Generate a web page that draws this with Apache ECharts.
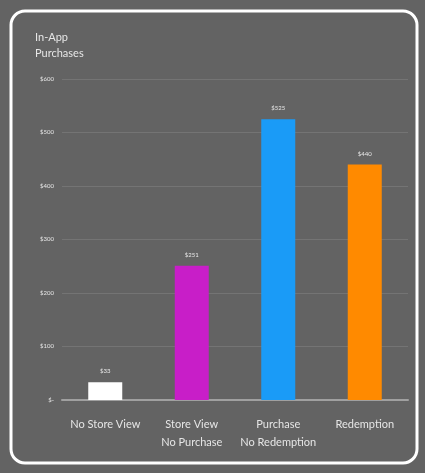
<!DOCTYPE html>
<html>
<head>
<meta charset="utf-8">
<script src="https://cdn.jsdelivr.net/npm/echarts@6/dist/echarts.min.js"></script>
<style>
html,body{margin:0;padding:0;background:#636363;}
#c{width:425px;height:473px;}
</style>
</head>
<body>
<div id="c"></div>
<script>
const categories = ['No Store View', 'Store View\nNo Purchase', 'Purchase\nNo Redemption', 'Redemption'];
const values = [33, 251, 525, 440];
const valueLabels = ['$33', '$251', '$525', '$440'];
const barColors = ['#ffffff', '#c81ec8', '#1a9bf7', '#ff8a00'];
const yTicks = [0, 100, 200, 300, 400, 500, 600];

const chart = echarts.init(document.getElementById('c'));
chart.setOption({
  backgroundColor: '#636363',
  animation: false,
  title: {
    text: 'In-App\nPurchases',
    left: 30, top: 24,
    textStyle: { color: '#e6e6e6', fontSize: 11, fontWeight: 'normal', fontFamily: 'Lato', lineHeight: 16 }
  },
  graphic: [{
    type: 'rect',
    shape: { x: 11, y: 11, width: 406, height: 452, r: 14 },
    style: { fill: 'none', stroke: '#ffffff', lineWidth: 3 },
    silent: true
  }],
  grid: { left: 62, right: 17, top: 79, bottom: 73 },
  xAxis: {
    type: 'category',
    data: categories,
    axisLine: { lineStyle: { color: '#a0a0a0', width: 2 } },
    axisTick: { show: false },
    axisLabel: { color: '#e6e6e6', fontSize: 11, fontFamily: 'Lato', lineHeight: 18, margin: 15, interval: 0 }
  },
  yAxis: {
    type: 'value',
    min: 0, max: 600, interval: 100,
    axisLine: { show: false },
    axisTick: { show: false },
    splitLine: { lineStyle: { color: '#747474', width: 1 } },
    axisLabel: {
      color: '#e8e8e8', fontSize: 6, fontFamily: 'Lato', margin: 8,
      formatter: v => yTicks.includes(v) ? (v === 0 ? '$-' : '$' + v) : ''
    }
  },
  series: [{
    type: 'bar',
    barWidth: 34,
    data: values.map((v, i) => ({ value: v, itemStyle: { color: barColors[i] } })),
    label: {
      show: true, position: 'top', distance: 8,
      color: '#e8e8e8', fontSize: 6, fontFamily: 'Lato',
      formatter: p => valueLabels[p.dataIndex]
    }
  }]
});
</script>
</body>
</html>
